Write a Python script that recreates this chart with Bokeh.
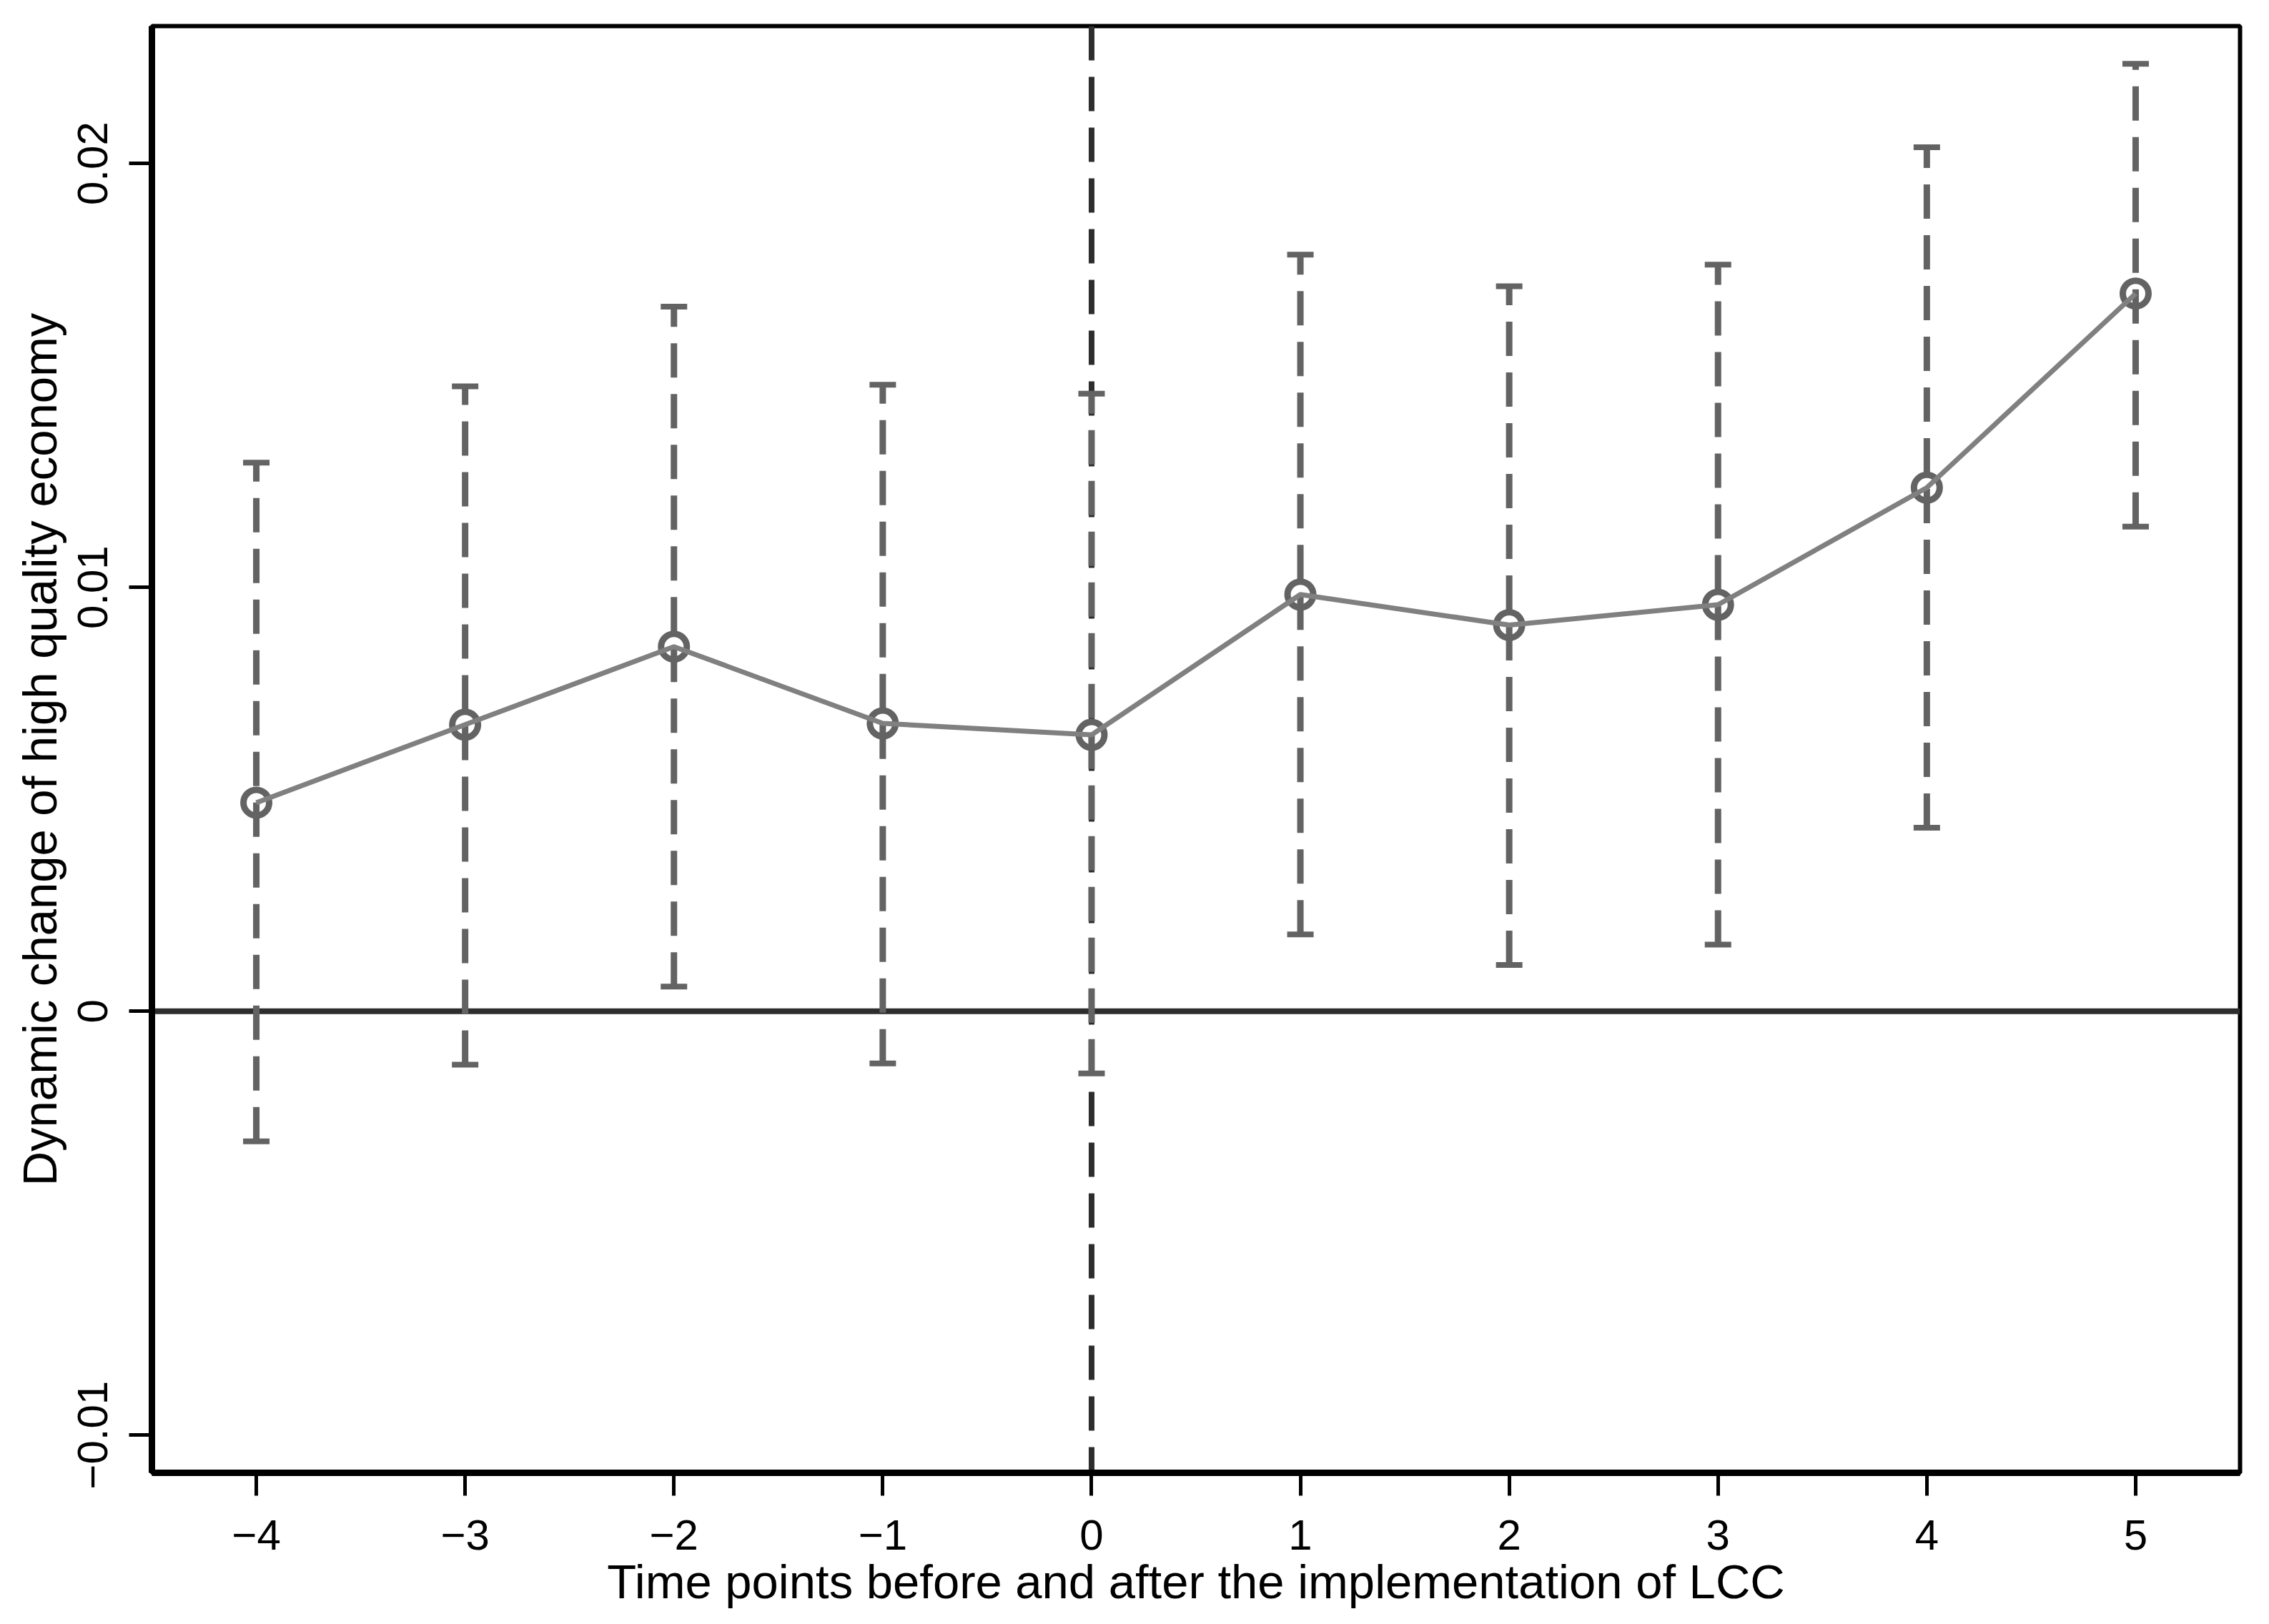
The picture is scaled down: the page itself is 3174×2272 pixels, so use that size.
from bokeh.plotting import figure
from bokeh.models import Range1d, FixedTicker, Span, Whisker, TeeHead, ColumnDataSource
from bokeh.embed import file_html
from bokeh.resources import INLINE

# ---- data ----
periods = [-4, -3, -2, -1, 0, 1, 2, 3, 4, 5]
coef = [0.00492, 0.00676, 0.00860, 0.00679, 0.00652, 0.00983, 0.00911, 0.00959, 0.01235, 0.01693]
ci_upper = [0.01294, 0.01474, 0.01662, 0.01478, 0.01457, 0.01785, 0.01710, 0.01761, 0.02038, 0.02235]
ci_lower = [-0.00307, -0.00126, 0.00058, -0.00123, -0.00147, 0.00181, 0.00109, 0.00157, 0.00433, 0.01143]

x_ticks = [-4, -3, -2, -1, 0, 1, 2, 3, 4, 5]
x_tick_labels = ["\u22124", "\u22123", "\u22122", "\u22121", "0", "1", "2", "3", "4", "5"]
y_ticks = [-0.01, 0, 0.01, 0.02]
y_tick_labels = ["\u22120.01", "0", "0.01", "0.02"]

x_title = "Time points before and after the implementation of LCC"
y_title = "Dynamic change of high quality economy"

FONT = "Liberation Sans"

p = figure(width=3158, height=2256, output_backend="svg", toolbar_location=None,
           x_range=Range1d(-4.5, 5.5), y_range=Range1d(-0.01089, 0.02324),
           min_border_left=212, min_border_right=25, min_border_top=36, min_border_bottom=196)
p.background_fill_color = "white"
p.border_fill_color = "white"
p.xgrid.visible = False
p.ygrid.visible = False
p.outline_line_color = "black"
p.outline_line_width = 6

for ax in (p.xaxis[0], p.yaxis[0]):
    ax.axis_line_color = "black"
    ax.axis_line_width = 9
    ax.major_tick_out = 32
    ax.major_tick_in = 0
    ax.major_tick_line_width = 5
    ax.major_tick_line_color = "black"
    ax.minor_tick_out = 0
    ax.minor_tick_in = 0
    ax.major_label_text_font = FONT
    ax.major_label_text_font_size = "60px"
    ax.major_label_text_color = "black"
    ax.axis_label_text_font = FONT
    ax.axis_label_text_font_size = "67px"
    ax.axis_label_text_font_style = "normal"
    ax.axis_label_text_color = "black"

p.xaxis.ticker = FixedTicker(ticks=x_ticks)
p.xaxis.major_label_overrides = dict(zip(x_ticks, x_tick_labels))
p.xaxis.axis_label = x_title
p.xaxis.major_label_standoff = 34
p.xaxis.axis_label_standoff = 4

p.yaxis.ticker = FixedTicker(ticks=y_ticks)
p.yaxis.major_label_overrides = dict(zip(y_ticks, y_tick_labels))
p.yaxis.major_label_orientation = "vertical"
p.yaxis.axis_label = y_title
p.yaxis.major_label_standoff = 30
p.yaxis.axis_label_standoff = 14

# reference lines
p.add_layout(Span(location=0, dimension="width", line_color="#2d2d2d", line_width=8, level="underlay"))
p.add_layout(Span(location=0, dimension="height", line_color="#2d2d2d", line_width=8,
                  line_dash="48 23", level="underlay"))

# confidence intervals
src = ColumnDataSource(dict(x=periods, upper=ci_upper, lower=ci_lower))
w = Whisker(base="x", upper="upper", lower="lower", source=src, dimension="height",
            line_color="#636363", line_width=9, line_dash="48 23",
            upper_head=TeeHead(size=37, line_color="#636363", line_width=8),
            lower_head=TeeHead(size=37, line_color="#636363", line_width=8))
p.add_layout(w)

# point estimates
p.scatter(periods, coef, marker="circle", size=36, fill_alpha=0,
          line_color="#636363", line_width=9)
p.line(periods, coef, line_color="#808080", line_width=7)

open("out.html", "w").write(file_html(p, INLINE))
